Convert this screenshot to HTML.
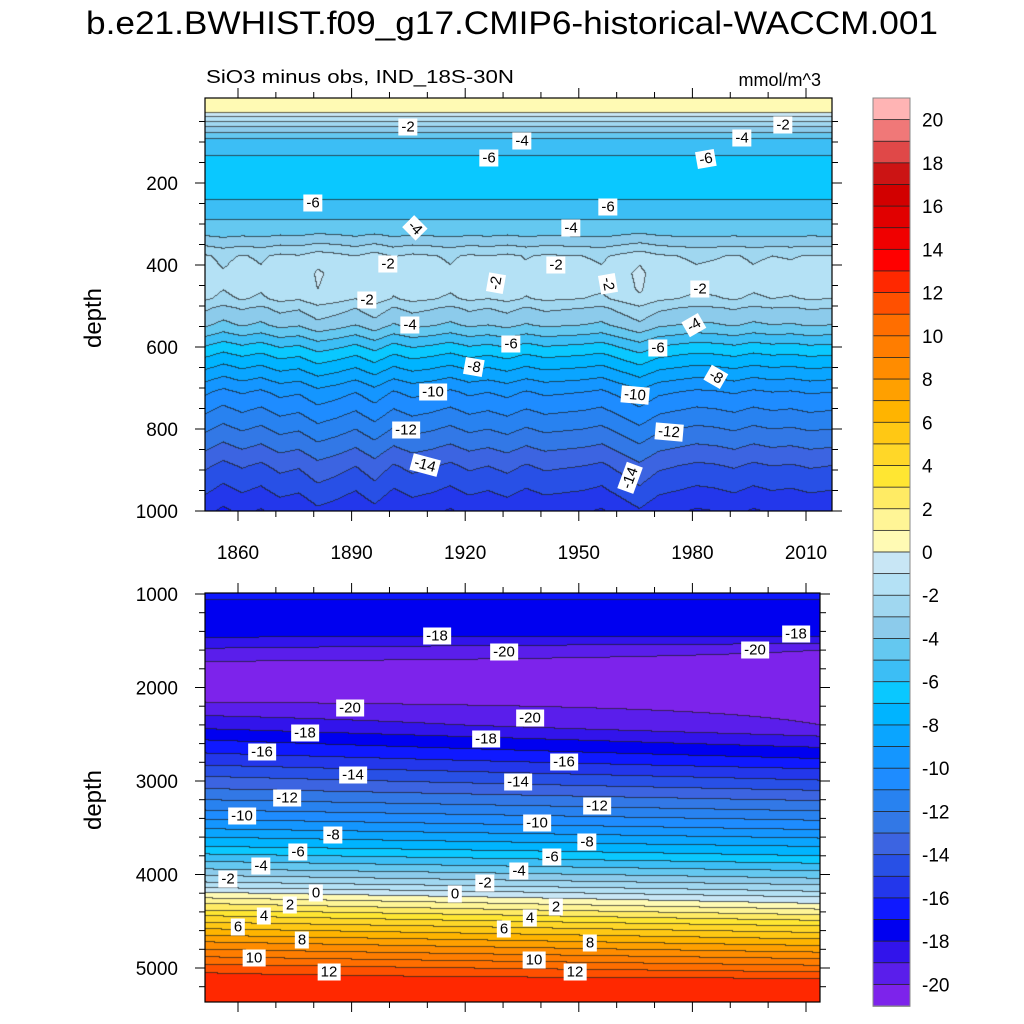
<!DOCTYPE html>
<html><head><meta charset="utf-8">
<style>
body{margin:0;background:#fff;width:1024px;height:1024px;overflow:hidden;font-family:"Liberation Sans",sans-serif;}
#wrap{position:relative;width:1024px;height:1024px;}
canvas{position:absolute;}
svg{position:absolute;left:0;top:0;}
.lbl{position:absolute;background:#fff;font-size:15px;line-height:17px;padding:0 3px;color:#000;transform:translate(-50%,-50%);font-family:"Liberation Sans",sans-serif;}
</style></head>
<body><div id="wrap">
<canvas id="topc" width="627" height="413" style="left:205px;top:98px"></canvas>
<canvas id="botc" width="615" height="409" style="left:205px;top:593px"></canvas>
<svg id="ov" width="1024" height="1024"></svg>
<div id="labels"></div>
</div>
<script>
// ---- data ----
const levelColors = ["#7d23eb","#5a1eeb","#3214eb","#0000f0","#0f19ff","#2337eb","#2850e6","#3c64e1","#3278e6","#2882f0","#1e8cff","#1496ff","#0aa5ff","#00b4ff","#0ac8ff","#3cbef5","#64c8f0","#8ccbeb","#a0d7f0","#b4e1f5","#c8e6f5","#fffab4","#fff596","#ffeb64","#ffe632","#ffd728","#ffc814","#ffb400","#ffa000","#ff8c00","#ff7d00","#ff6e00","#ff5000","#ff2800","#ff0000","#f00000","#e10000","#d20000","#cc1414","#e04848","#f07878","#ffb4b4"];
const colorbarTicks = [20,18,16,14,12,10,8,6,4,2,0,-2,-4,-6,-8,-10,-12,-14,-16,-18,-20];
const topDepths = [0,20,28,38,50,62,76,92,110,132,180,240,290,330,355,378,420,460,482,505,546,570,593,620,650,680,710,755,800,845,890,950,1010];
const topValues = [0.6,0.3,0,-1,-2,-3,-4,-5,-5.6,-6,-6.6,-6,-5,-4,-3,-2,-1.6,-1.7,-2,-3,-4,-5,-6,-7,-8,-9,-10,-11,-12,-13,-14,-15,-16.1];
const anomYears = [1851,1856,1861,1866,1871,1876,1881,1886,1891,1896,1901,1906,1911,1916,1921,1926,1931,1936,1941,1946,1951,1956,1961,1966,1971,1976,1981,1986,1991,1996,2001,2006,2011,2016];
const anomValues = [0.2,-0.3,0.1,-0.2,0.3,0.1,0.7,0.4,0.0,0.6,-0.1,0.3,0.1,-0.2,0.2,0.0,0.3,-0.1,0.2,0.1,0.0,-0.2,0.3,0.8,0.2,0.0,-0.2,-0.1,0.1,-0.2,0.0,-0.1,0.1,0.0];
const botDepthsL = [1000,1080,1300,1470,1580,1720,1900,2155,2300,2440,2560,2700,2830,2950,3080,3200,3310,3410,3510,3600,3700,3780,3860,3940,4010,4080,4140,4190,4250,4310,4380,4440,4510,4580,4650,4720,4800,4880,4960,5050,5200,5360];
const botValsL = [-16.5,-17.2,-17.8,-18,-19,-20,-20.6,-20,-19,-18,-17,-16,-15,-14,-13,-12,-11,-10,-9,-8,-7,-6,-5,-4,-3,-2,-1,0,1,2,3,4,5,6,7,8,9,10,11,12,12.7,12.9];
const botDepthsR = [1000,1100,1300,1450,1530,1600,1900,2400,2520,2640,2760,2870,2990,3100,3210,3320,3420,3520,3610,3700,3800,3880,3960,4040,4110,4180,4240,4310,4370,4430,4490,4550,4620,4690,4760,4830,4900,4970,5040,5110,5250,5360];
const botValsR = [-16.6,-17.3,-17.7,-18,-19,-20,-20.7,-20,-19,-18,-17,-16,-15,-14,-13,-12,-11,-10,-9,-8,-7,-6,-5,-4,-3,-2,-1,0,1,2,3,4,5,6,7,8,9,10,11,12,12.7,12.9];
const yearTicks = [1860,1890,1920,1950,1980,2010];
const topDepthTicks = [200,400,600,800,1000];
const botDepthTicks = [1000,2000,3000,4000,5000];

// ---- scales ----
const yrPerPx=150/568, yr0=1860-(238-205)*yrPerPx;
function xOfYear(y){return 238+(y-1860)*568/150;}
function yearOfX(px){return yr0+px*yrPerPx;}
function yTop(d){return 101+d*0.41;}
function yBot(d){return 594+(d-1000)*0.0935;}
function interp(xs,ys,x){
  if(x<=xs[0])return ys[0]; if(x>=xs[xs.length-1])return ys[ys.length-1];
  for(let i=1;i<xs.length;i++){if(x<=xs[i]){const t=(x-xs[i-1])/(xs[i]-xs[i-1]);return ys[i-1]+t*(ys[i]-ys[i-1]);}}
}
function hex(c){return [parseInt(c.substr(1,2),16),parseInt(c.substr(3,2),16),parseInt(c.substr(5,2),16)];}
const rgb=levelColors.map(hex);
function bin(v){return Math.max(0,Math.min(41,Math.floor(v)+21));}

function render(cv,fn){
  const ctx=cv.getContext('2d'),W=cv.width,H=cv.height;
  const F=new Float32Array(W*H);
  for(let j=0;j<H;j++)for(let i=0;i<W;i++)F[j*W+i]=fn(i,j);
  const img=ctx.createImageData(W,H);
  for(let j=0;j<H;j++)for(let i=0;i<W;i++){
    const k=j*W+i,b=bin(F[k]);let c=rgb[b];
    let line=false;
    if(i<W-1&&bin(F[k+1])!==b)line=true;
    if(j<H-1&&bin(F[k+W])!==b)line=true;
    let r=c[0],g=c[1],bl=c[2];
    if(line){r=r*0.3+20;g=g*0.3+20;bl=bl*0.3+20;}
    img.data[k*4]=r;img.data[k*4+1]=g;img.data[k*4+2]=bl;img.data[k*4+3]=255;
  }
  ctx.putImageData(img,0,0);
}
render(document.getElementById('topc'),(i,j)=>{
  const d=(98+j-101)/0.41, yr=yearOfX(i);
  let v=interp(topDepths,topValues,d);
  const w=d>300?Math.min(1,(d-300)/100):0;
  v+=interp(anomYears,anomValues,yr)*w;
  return v;
});
render(document.getElementById('botc'),(i,j)=>{
  const d=1000+(593+j-594)/0.0935, t=i/615;
  return interp(botDepthsL,botValsL,d)*(1-t)+interp(botDepthsR,botValsR,d)*t;
});

// ---- overlay svg ----
const NS="http://www.w3.org/2000/svg",svg=document.getElementById('ov');
function el(tag,attrs,txt){const e=document.createElementNS(NS,tag);for(const k in attrs)e.setAttribute(k,attrs[k]);if(txt!==undefined)e.textContent=txt;svg.appendChild(e);return e;}
let e;
e=el('text',{x:512,y:34,'text-anchor':'middle','font-size':32,textLength:852,lengthAdjust:'spacingAndGlyphs','font-family':'Liberation Sans'},'b.e21.BWHIST.f09_g17.CMIP6-historical-WACCM.001');

e=el('text',{x:206,y:83,'font-size':18,textLength:308,lengthAdjust:'spacingAndGlyphs'},'SiO3 minus obs, IND_18S-30N');

e=el('text',{x:821,y:86,'font-size':18,'text-anchor':'end'},'mmol/m^3');

e=el('rect',{x:205,y:98,width:627,height:413,fill:'none',stroke:'#000','stroke-width':1.2});

e=el('rect',{x:205,y:593,width:615,height:409,fill:'none',stroke:'#000','stroke-width':1.2});

for(let y=1850;y<=2016;y+=10){const x=xOfYear(y);if(x<205||x>832)continue;const maj=(y-1860)%30===0;const L=maj?10:6;
  el('line',{x1:x,y1:98,x2:x,y2:98-L,stroke:'#000'});el('line',{x1:x,y1:511,x2:x,y2:511+L,stroke:'#000'});
  if(x<=820){el('line',{x1:x,y1:593,x2:x,y2:593-L,stroke:'#000'});el('line',{x1:x,y1:1002,x2:x,y2:1002+L,stroke:'#000'});}
}
yearTicks.forEach(y=>{const t=el('text',{x:xOfYear(y),y:559,'font-size':19,'text-anchor':'middle'},String(y));
  });
for(let d=50;d<=1000;d+=50){const y=yTop(d);const maj=d%200===0;const L=maj?10:6;
  el('line',{x1:205,y1:y,x2:205-L,y2:y,stroke:'#000'});el('line',{x1:832,y1:y,x2:832+L,y2:y,stroke:'#000'});}
topDepthTicks.forEach(d=>{const t=el('text',{x:178,y:yTop(d)+7,'font-size':19,'text-anchor':'end'},String(d));
  });
for(let d=1000;d<=5300;d+=200){const y=yBot(d);const maj=d%1000===0;const L=maj?10:6;
  el('line',{x1:205,y1:y,x2:205-L,y2:y,stroke:'#000'});el('line',{x1:820,y1:y,x2:820+L,y2:y,stroke:'#000'});}
botDepthTicks.forEach(d=>{const t=el('text',{x:178,y:yBot(d)+7,'font-size':19,'text-anchor':'end'},String(d));
  });
e=el('text',{x:0,y:0,'font-size':24,'text-anchor':'middle',transform:'translate(101,318) rotate(-90)'},'depth');

e=el('text',{x:0,y:0,'font-size':24,'text-anchor':'middle',transform:'translate(101,800) rotate(-90)'},'depth');

const cbTop=98,cbH=908/42;
for(let k=0;k<42;k++){const idx=41-k;
  const r=el('rect',{x:873,y:cbTop+k*cbH,width:37,height:cbH+0.3,fill:levelColors[idx],stroke:'#222','stroke-width':0.8});
  }
el('rect',{x:873,y:cbTop,width:37,height:908,fill:'none',stroke:'#888','stroke-width':1});
colorbarTicks.forEach(v=>{const y=cbTop+(20-v+1)*cbH;
  const t=el('text',{x:922,y:y+7,'font-size':19},String(v));
  });
const labs=[[408,127,'-2',0],[522,141,'-4',0],[489,158,'-6',0],[742,138,'-4',0],[783,125,'-2',0],[706,159,'-6',-10],[313,203,'-6',0],[608,207,'-6',0],[415,228,'-4',45],[571,228,'-4',0],[388,264,'-2',0],[556,265,'-2',0],[496,283,'-2',-80],[608,284,'-2',80],[367,300,'-2',0],[700,289,'-2',0],[410,325,'-4',0],[694,325,'-4',-30],[511,344,'-6',0],[658,348,'-6',0],[474,367,'-8',10],[716,377,'-8',30],[433,392,'-10',0],[635,395,'-10',5],[406,430,'-12',0],[669,432,'-12',5],[425,465,'-14',15],[630,478,'-14',-70],
 [437,636,'-18',0],[504,652,'-20',0],[796,634,'-18',0],[755,650,'-20',0],[350,708,'-20',0],[530,718,'-20',0],[305,733,'-18',0],[486,739,'-18',0],[262,752,'-16',0],[564,762,'-16',0],[353,775,'-14',0],[518,782,'-14',0],[287,798,'-12',0],[597,806,'-12',0],[242,816,'-10',0],[537,823,'-10',0],[333,835,'-8',0],[587,842,'-8',0],[298,852,'-6',0],[552,857,'-6',0],[261,866,'-4',0],[519,871,'-4',0],[228,879,'-2',0],[485,883,'-2',0],[316,893,'0',0],[455,894,'0',0],[290,905,'2',0],[556,907,'2',0],[264,916,'4',0],[530,918,'4',0],[238,927,'6',0],[504,929,'6',0],[302,940,'8',0],[590,943,'8',0],[254,958,'10',0],[534,960,'10',0],[329,972,'12',0],[575,972,'12',0]];
const L=document.getElementById('labels');
labs.forEach(a=>{const d=document.createElement('div');d.className='lbl';d.textContent=a[2];
  d.style.left=a[0]+'px';d.style.top=a[1]+'px';d.style.transform='translate(-50%,-50%) rotate('+a[3]+'deg)';
  
  
  L.appendChild(d);});
</script>
</body></html>
